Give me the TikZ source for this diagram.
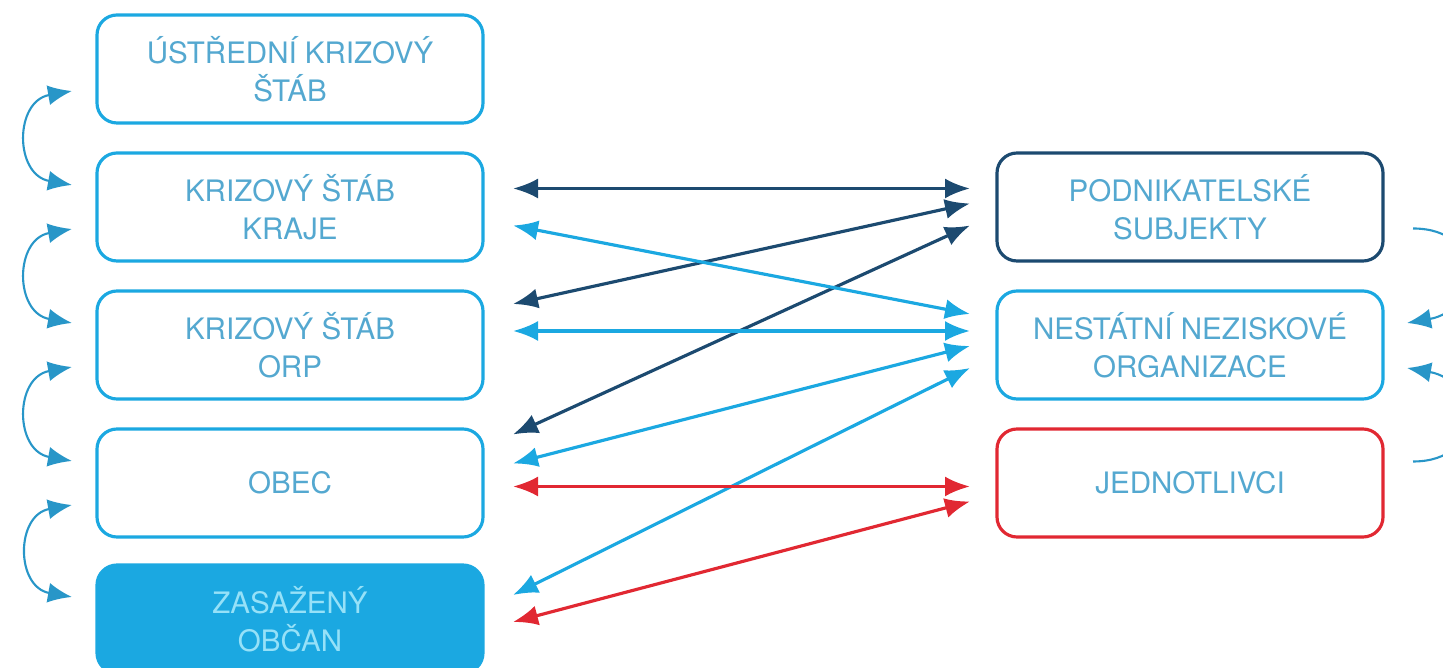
\documentclass[tikz,border=0pt]{standalone}
\usepackage{fontspec}
\setmainfont{TeX Gyre Heros}
\usetikzlibrary{positioning, arrows.meta}
\definecolor{kblue}{RGB}{27,168,225}
\definecolor{kdark}{RGB}{28,74,112}
\definecolor{kred}{RGB}{225,40,50}
\definecolor{ktext}{RGB}{84,168,208}
\definecolor{kpale}{RGB}{150,225,248}
\definecolor{karc}{RGB}{40,150,200}
\tikzstyle{stab}=[draw=kblue, line width=0.9pt, outer sep=0pt, rounded corners=2mm, minimum width=3.86cm, minimum height=1.08cm, align=center, text=ktext, font=\fontsize{8.4}{10.8}\selectfont]
\tikzstyle{dvoj}=[line width=0.9pt, {Latex[length=2.5mm,width=2mm]}-{Latex[length=2.5mm,width=2mm]}]
\tikzstyle{oblouk}=[draw=karc, line width=0.6pt, {Latex[length=2.4mm,width=2mm]}-{Latex[length=2.4mm,width=2mm]}]
\tikzstyle{oblouk1}=[draw=karc, line width=0.6pt, -{Latex[length=2.4mm,width=2mm]}]

\begin{document}
\begin{tikzpicture}[node distance=0.3cm]
	\useasboundingbox (0,0) rectangle (14.43,-6.68);
	\node[stab] (ustr) at (2.90,-0.69) {ÚSTŘEDNÍ KRIZOVÝ\\ŠTÁB};
	\node[stab, below=of ustr] (kraje) {KRIZOVÝ ŠTÁB\\KRAJE};
	\node[stab, below=of kraje] (orp) {KRIZOVÝ ŠTÁB\\ORP};
	\node[stab, below=of orp] (obec) {OBEC};
	\node[stab, below=0.28cm of obec, fill=kblue, text=kpale] (obcan) {ZASAŽENÝ\\OBČAN};
	\node[stab, right=5.14cm of kraje, draw=kdark] (pod) {PODNIKATELSKÉ\\SUBJEKTY};
	\node[stab, below=of pod] (nno) {NESTÁTNÍ NEZISKOVÉ\\ORGANIZACE};
	\node[stab, below=of nno, draw=kred] (jedn) {JEDNOTLIVCI};
	\draw[oblouk] ([xshift=-2.5mm,yshift=-2.2mm]ustr.west) to[out=190,in=170,looseness=1.6] ([xshift=-2.5mm,yshift=2.2mm]kraje.west);
	\draw[oblouk] ([xshift=-2.5mm,yshift=-2.2mm]kraje.west) to[out=190,in=170,looseness=1.6] ([xshift=-2.5mm,yshift=2.2mm]orp.west);
	\draw[oblouk] ([xshift=-2.5mm,yshift=-2.2mm]orp.west) to[out=190,in=170,looseness=1.6] ([xshift=-2.5mm,yshift=2.2mm]obec.west);
	\draw[oblouk] ([xshift=-2.5mm,yshift=-2.2mm]obec.west) to[out=190,in=170,looseness=1.6] ([xshift=-2.5mm,yshift=2.2mm]obcan.west);
	\draw[oblouk1] ([xshift=3mm,yshift=-2.15mm]pod.east) to[out=0,in=10,looseness=2] ([xshift=2.4mm,yshift=2.2mm]nno.east);
	\draw[oblouk1] ([xshift=3mm,yshift=2.15mm]jedn.east) to[out=0,in=-10,looseness=2] ([xshift=2.4mm,yshift=-2.3mm]nno.east);
	\draw[dvoj, kdark] ([xshift=3mm,yshift=1.85mm]kraje.east) -- ([xshift=-2.7mm,yshift=1.85mm]pod.west);
	\draw[dvoj, kdark] ([xshift=3mm,yshift=4.1mm]orp.east) -- ([xshift=-2.7mm,yshift=0.35mm]pod.west);
	\draw[dvoj, kdark] ([xshift=3mm,yshift=4.85mm]obec.east) -- ([xshift=-2.7mm,yshift=-1.85mm]pod.west);
	\draw[dvoj, kblue] ([xshift=3mm,yshift=-1.85mm]kraje.east) -- ([xshift=-2.7mm,yshift=3.1mm]nno.west);
	\draw[dvoj, kblue] ([xshift=3mm,yshift=1.4mm]orp.east) -- ([xshift=-2.7mm,yshift=1.4mm]nno.west);
	\draw[dvoj, kblue] ([xshift=3mm,yshift=1.95mm]obec.east) -- ([xshift=-2.7mm,yshift=-0.1mm]nno.west);
	\draw[dvoj, kblue] ([xshift=3mm,yshift=2.4mm]obcan.east) -- ([xshift=-2.7mm,yshift=-2.3mm]nno.west);
	\draw[dvoj, kred] ([xshift=3mm,yshift=-0.35mm]obec.east) -- ([xshift=-2.7mm,yshift=-0.35mm]jedn.west);
	\draw[dvoj, kred] ([xshift=3mm,yshift=-0.3mm]obcan.east) -- ([xshift=-2.7mm,yshift=-1.85mm]jedn.west);
\end{tikzpicture}
\end{document}
